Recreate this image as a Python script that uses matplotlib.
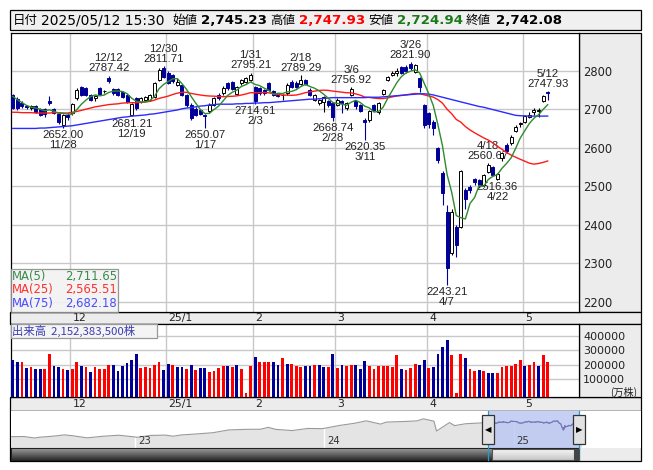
import numpy as np
import pandas as pd
import matplotlib
matplotlib.use("Agg")
import matplotlib.pyplot as plt
from matplotlib.patches import Rectangle
import matplotlib.transforms as mtransforms
import matplotlib.dates as mdates

# ---------------------------------------------------------------- data
holidays = ["2024-12-31", "2025-01-01", "2025-01-02", "2025-01-03", "2025-01-13",
            "2025-02-11", "2025-02-24", "2025-03-20", "2025-04-29", "2025-05-05", "2025-05-06"]
trade_days = [d for d in pd.bdate_range("2024-11-13", "2025-05-12")
              if d.strftime("%Y-%m-%d") not in holidays]
update_time = "15:30"

opens = [2736, 2727, 2716, 2707, 2702, 2708, 2700, 2700, 2720, 2700,
         2687, 2660, 2686, 2689, 2728, 2757, 2755, 2737, 2728, 2754,
         2747, 2780, 2752, 2752, 2745, 2737, 2685, 2728, 2719, 2724,
         2724, 2732, 2776, 2808, 2795, 2789, 2764, 2763, 2737, 2712,
         2700, 2698, 2686, 2694, 2711, 2737, 2741, 2767, 2771, 2740,
         2767, 2770, 2777, 2758, 2754, 2750, 2767, 2746, 2736, 2737,
         2741, 2771, 2769, 2765, 2776, 2751, 2724, 2715, 2719, 2720,
         2716, 2712, 2722, 2703, 2737, 2720, 2711, 2672, 2672, 2711,
         2692, 2739, 2777, 2789, 2795, 2809, 2810, 2817, 2797, 2780,
         2711, 2689, 2668, 2598, 2535, 2434, 2327, 2395, 2395, 2490,
         2499, 2518, 2516, 2503, 2538, 2549, 2519, 2572, 2608, 2611,
         2644, 2661, 2668, 2681, 2693, 2695, 2722, 2745.23]
highs = [2740, 2731, 2720, 2712, 2712, 2712, 2703, 2702, 2733, 2703,
         2690, 2688, 2690, 2716, 2755, 2760, 2758, 2740, 2738, 2757,
         2751, 2787.42, 2755, 2755, 2748, 2740, 2717, 2731, 2732, 2735,
         2740, 2770, 2806, 2811.71, 2799, 2792, 2780, 2766, 2740, 2715,
         2705, 2701, 2688, 2715, 2731, 2741, 2759, 2771, 2774, 2760,
         2779, 2784, 2795.21, 2761, 2757, 2753, 2770, 2749, 2741, 2740,
         2767, 2775, 2772, 2789.29, 2779, 2754, 2740, 2727, 2735, 2724,
         2719, 2728, 2725, 2719, 2756.92, 2723, 2714, 2676, 2697, 2714,
         2718, 2753, 2787, 2800, 2807, 2812, 2814, 2821.90, 2818, 2783,
         2714, 2693, 2672, 2602, 2540, 2451, 2440, 2398, 2542, 2494,
         2503, 2522, 2519, 2532, 2560.67, 2552, 2535, 2590, 2612, 2632,
         2658, 2668, 2685, 2692, 2702, 2702, 2738, 2747.93]
lows = [2700, 2699, 2702, 2700, 2698, 2690, 2683, 2680, 2712, 2688,
        2662, 2652.00, 2673, 2686, 2725, 2733, 2734, 2720, 2722, 2736,
        2742, 2769, 2738, 2734, 2728, 2716, 2681.21, 2698, 2716, 2721,
        2721, 2729, 2772, 2781, 2765, 2768, 2760, 2734, 2706, 2672,
        2682, 2684, 2650.07, 2690, 2707, 2725, 2737, 2750, 2749, 2736,
        2764, 2767, 2774, 2714.61, 2737, 2737, 2747, 2733, 2732, 2724,
        2738, 2755, 2755, 2762, 2762, 2733, 2720, 2711, 2693, 2706,
        2668.74, 2709, 2690, 2698, 2733, 2700, 2692, 2620.35, 2668, 2694,
        2688, 2736, 2773, 2786, 2786, 2791, 2795, 2802, 2794, 2745,
        2650, 2650, 2633, 2560, 2450, 2243.21, 2320, 2317, 2392, 2440,
        2482, 2503, 2497, 2499, 2535, 2526, 2516.36, 2566, 2586, 2607,
        2640, 2655, 2664, 2677, 2685, 2680, 2718, 2724.94]
closes = [2704, 2703, 2707, 2705, 2708, 2693, 2686, 2688, 2716, 2691,
          2667, 2684, 2679, 2713, 2751, 2737, 2738, 2724, 2735, 2739,
          2747.5, 2772, 2741, 2737, 2732, 2719, 2714, 2702, 2728, 2732,
          2737, 2767, 2802, 2784, 2769, 2772, 2770, 2737, 2710, 2678,
          2685, 2688, 2682, 2712, 2728, 2729, 2756, 2754, 2752, 2757,
          2776, 2780, 2789, 2720, 2741, 2743, 2751, 2737, 2735, 2737.5,
          2764, 2758, 2758, 2776, 2765, 2737, 2737, 2724, 2732, 2712,
          2681, 2725, 2716, 2716, 2752, 2707, 2696, 2668, 2694, 2698,
          2715, 2750, 2784, 2795, 2800, 2794, 2798, 2806, 2815, 2757,
          2659, 2662, 2650, 2568, 2482, 2288, 2434, 2347, 2539.4, 2466,
          2489, 2510, 2503, 2529, 2556, 2530, 2532, 2585, 2592, 2629,
          2654, 2665, 2681.08, 2686, 2697, 2698, 2735.17, 2742.08]
pre_closes = [2745, 2744, 2742, 2730]          # four sessions before the window (MA5 warm-up)
ma25_early = [2692, 2692, 2691, 2691, 2691, 2690, 2690, 2690, 2690, 2691,
              2691, 2690, 2690, 2692, 2694, 2697, 2700, 2703, 2706, 2708,
              2710, 2712, 2713, 2714]
ma75 = [2650, 2650, 2650, 2650, 2650, 2650, 2651, 2651, 2652, 2653,
        2654, 2655, 2656, 2657, 2659, 2661, 2663, 2665, 2667, 2669,
        2671, 2673, 2675, 2677, 2679, 2680, 2682, 2683, 2684, 2685,
        2687, 2688, 2690, 2692, 2694, 2696, 2698, 2701, 2703, 2704,
        2706, 2708, 2709, 2711, 2712, 2713, 2713, 2713, 2713, 2714,
        2714, 2715, 2715, 2716, 2716, 2717, 2717, 2718, 2719, 2720,
        2721, 2722, 2723, 2724, 2725, 2726, 2726, 2727, 2728, 2729,
        2730, 2730, 2730, 2730, 2730, 2730, 2730, 2730, 2731, 2731,
        2731, 2732, 2733, 2734, 2735, 2736, 2737, 2738, 2739, 2740,
        2740, 2739, 2737, 2734, 2731, 2728, 2725, 2722, 2719, 2716,
        2713, 2710, 2707, 2705, 2702, 2699, 2696, 2693, 2690, 2687,
        2684, 2683, 2682.5, 2682, 2682, 2682, 2682, 2682.18]
volume = [234000, 220000, 220000, 178000, 185000, 171000, 171000, 171000, 276000, 192000,
          185000, 171000, 164000, 171000, 220000, 192000, 185000, 150000, 185000, 171000,
          171000, 199000, 199000, 157000, 192000, 213000, 234000, 276000, 178000, 185000,
          178000, 199000, 220000, 164000, 206000, 199000, 185000, 185000, 171000, 199000,
          164000, 178000, 178000, 150000, 157000, 178000, 192000, 192000, 185000, 199000,
          171000, 0, 192000, 255000, 220000, 220000, 220000, 220000, 199000, 248000,
          206000, 206000, 192000, 185000, 192000, 192000, 199000, 199000, 185000, 185000,
          276000, 178000, 199000, 192000, 199000, 199000, 171000, 227000, 192000, 171000,
          192000, 192000, 192000, 185000, 269000, 171000, 164000, 178000, 206000, 199000,
          234000, 178000, 185000, 276000, 326000, 375000, 269000, 0, 276000, 248000,
          171000, 157000, 164000, 157000, 143000, 143000, 143000, 185000, 192000, 192000,
          206000, 234000, 192000, 199000, 220000, 192000, 269000, 215238.35]   # 万株
vol_up = [0, 0, 1, 0, 1, 0, 0, 1, 1, 0,
          0, 1, 0, 1, 1, 0, 1, 0, 1, 1,
          1, 1, 0, 0, 0, 0, 0, 0, 1, 1,
          1, 1, 1, 0, 0, 1, 0, 0, 1, 0,
          1, 0, 0, 1, 1, 1, 1, 0, 1, 0,
          1, 1, 1, 0, 1, 1, 1, 0, 0, 1,
          0, 1, 1, 1, 0, 0, 1, 0, 0, 1,
          0, 1, 0, 1, 1, 0, 0, 0, 1, 1,
          1, 1, 1, 1, 1, 0, 1, 1, 1, 0,
          0, 1, 0, 0, 0, 0, 1, 1, 1, 0,
          1, 1, 0, 1, 0, 0, 1, 1, 1, 1,
          1, 1, 0, 1, 1, 0, 1, 1]
peak_days = ["2024-12-12", "2024-12-30", "2025-01-31", "2025-02-18",
             "2025-03-06", "2025-03-26", "2025-04-18", "2025-05-12"]
trough_days = ["2024-11-28", "2024-12-19", "2025-01-17", "2025-02-03",
               "2025-02-28", "2025-03-11", "2025-04-07", "2025-04-22"]
nav_dates = ["2022-02-28", "2022-03-08", "2022-03-31", "2022-04-28", "2022-05-31",
             "2022-06-20", "2022-06-30", "2022-07-29", "2022-08-17", "2022-08-31",
             "2022-09-30", "2022-10-31", "2022-11-30", "2022-12-30", "2023-01-04",
             "2023-01-31", "2023-02-28", "2023-03-15", "2023-03-31", "2023-04-28",
             "2023-05-31", "2023-06-30", "2023-07-31", "2023-08-31", "2023-09-15",
             "2023-09-29", "2023-10-31", "2023-11-30", "2023-12-29", "2024-01-31",
             "2024-02-29", "2024-03-22", "2024-03-29", "2024-04-19", "2024-04-30",
             "2024-05-31", "2024-06-28", "2024-07-11", "2024-07-31", "2024-08-05",
             "2024-08-30", "2024-09-09", "2024-09-30", "2024-10-31", "2024-11-12"]
nav_close = [1886, 1760, 1946, 1900, 1912,
             1826, 1871, 1940, 2006, 1963,
             1836, 1929, 1986, 1892, 1868,
             1975, 1993, 1930, 2003, 2057,
             2131, 2289, 2323, 2332, 2440,
             2323, 2254, 2375, 2366, 2551,
             2676, 2814, 2769, 2626, 2743,
             2772, 2810, 2929, 2794, 2227,
             2713, 2540, 2646, 2696, 2730]

# ---------------------------------------------------------------- helpers
W, H = 653, 470
NAVY = "#000099"
CJK = ["Noto Sans CJK JP", "DejaVu Sans"]
plt.rcParams["font.family"] = ["DejaVu Sans"]

fig = plt.figure(figsize=(W / 100, H / 100), dpi=100)
fig.patch.set_facecolor("white")


def fbox(x0, y0, x1, y1):
    return [x0 / W, 1 - y1 / H, (x1 - x0) / W, (y1 - y0) / H]


def frect(x0, y0, x1, y1, fc, ec="black", lw=0.8, z=-5, alpha=1.0):
    r = Rectangle((x0 / W, 1 - y1 / H), (x1 - x0) / W, (y1 - y0) / H,
                  transform=fig.transFigure, fc=fc, ec=ec, lw=lw, zorder=z, alpha=alpha)
    fig.patches.append(r)
    return r


def ftext(x, y, s, **kw):
    return fig.text(x / W, 1 - y / H, s, **kw)


n = len(closes)
xi = np.arange(n)
o, h, l, c = map(np.array, (opens, highs, lows, closes))
ma5 = pd.Series(pre_closes + closes).rolling(5).mean().values[len(pre_closes):]
ma25 = np.concatenate([ma25_early, pd.Series(closes).rolling(25).mean().values[24:]])
ma75a = np.array(ma75)
XMIN, XMAX = -0.5, 123.85
month_starts = [i for i in range(1, n) if trade_days[i].month != trade_days[i - 1].month]


def mlabel(i):
    d = trade_days[i]
    return f"{d.year % 100}/1" if d.month == 1 else str(d.month)


# ---------------------------------------------------------------- header
frect(10, 10, 641, 30, "#f0f0f0", lw=0.9)
hy = 20.5
last = trade_days[-1]
ftext(13, hy, "日付", family=CJK, fontsize=9, va="center")
ftext(41, hy, f"{last:%Y/%m/%d} {update_time}", fontsize=10, va="center")
for xl, lab, xv, val, col in [(172, "始値", 201, opens[-1], "black"),
                              (270, "高値", 299, highs[-1], "#ff0000"),
                              (368, "安値", 397, lows[-1], "#1a7a1a"),
                              (466, "終値", 496, closes[-1], "black")]:
    ftext(xl, hy, lab, family=CJK, fontsize=9, va="center")
    ftext(xv, hy, f"{val:,.2f}", fontsize=9.6, fontweight="bold", color=col, va="center")

# ---------------------------------------------------------------- main price panel
frect(579, 33, 641, 312, "#ececec", lw=0.9)
ax = fig.add_axes(fbox(10.5, 33, 579, 312))
ax.set_xlim(XMIN, XMAX)
ax.set_ylim(2173.2, 2897.9)
ax.set_yticks([2200, 2300, 2400, 2500, 2600, 2700, 2800])
ax.yaxis.tick_right()
ax.tick_params(axis="y", length=0, pad=3, labelsize=8.3, labelcolor="#222222")
ax.set_xticks([])
ax.grid(axis="y", color="#c8c8c8", lw=1, zorder=0)
for m in month_starts:
    ax.axvline(m - 0.5, color="#c8c8c8", lw=1, zorder=0)
for sp in ax.spines.values():
    sp.set_color("black")
    sp.set_linewidth(0.9)

up = c >= o
ax.vlines(xi[up], l[up], h[up], color="black", lw=0.8, zorder=3)
ax.vlines(xi[~up], l[~up], h[~up], color=NAVY, lw=0.8, zorder=3)
ax.bar(xi[up], np.abs(c - o)[up], bottom=np.minimum(o, c)[up], width=0.66,
       fc="white", ec="black", lw=0.7, zorder=4)
ax.bar(xi[~up], np.abs(c - o)[~up], bottom=np.minimum(o, c)[~up], width=0.66,
       fc=NAVY, ec=NAVY, lw=0.7, zorder=4)

ax.plot(xi, ma25, color="#ff1a1a", lw=1.0, zorder=5)
ax.plot(xi, ma75a, color="#2b2bff", lw=1.0, zorder=5)
ax.plot(xi, ma5, color="#2e8b2e", lw=1.0, zorder=6)

day_str = [d.strftime("%Y-%m-%d") for d in trade_days]
for ds in peak_days:
    i = day_str.index(ds)
    d = trade_days[i]
    ax.annotate(f"{d.month}/{d.day}\n{highs[i]:.2f}", xy=(i, highs[i]), xytext=(0, 1.5),
                textcoords="offset points", ha="center", va="bottom", fontsize=8.2,
                family=["Liberation Sans", "DejaVu Sans"], color="#222222",
                linespacing=1.0, zorder=2)
for ds in trough_days:
    i = day_str.index(ds)
    d = trade_days[i]
    ax.annotate(f"{lows[i]:.2f}\n{d.month}/{d.day}", xy=(i, lows[i]), xytext=(0, -1.5),
                textcoords="offset points", ha="center", va="top", fontsize=8.2,
                family=["Liberation Sans", "DejaVu Sans"], color="#222222",
                linespacing=1.0, zorder=2)

# MA legend box
frect(10.5, 269, 118, 312, "#f2f2f2", ec="#8c8c8c", lw=0.9, z=10, alpha=0.9)
for yy, name, val, col in [(276.5, "MA(5)", ma5[-1], "#3a8a4a"),
                           (290, "MA(25)", ma25[-1], "#ff3030"),
                           (304, "MA(75)", ma75a[-1], "#4a4aff")]:
    ftext(12, yy, name, fontsize=8.4, color=col, va="center", zorder=11)
    ftext(117, yy, f"{val:,.2f}", fontsize=8.4, color=col, va="center", ha="right", zorder=11)

# ---------------------------------------------------------------- date strips
strip_trans = mtransforms.blended_transform_factory(ax.transData, fig.transFigure)
lab_trans = mtransforms.offset_copy(strip_trans, fig=fig, x=2.5, y=0, units="dots")
for y0, y1 in [(312, 323.5), (397, 410.5)]:
    frect(10, y0, 641, y1, "#ececec", lw=0.9)
    for m in month_starts:
        fig.text(m - 0.5, 1 - (y0 + y1) / 2 / H, mlabel(m), transform=lab_trans,
                 fontsize=7.8, color="#222222", ha="left", va="center")

# ---------------------------------------------------------------- volume panel
frect(579, 323.5, 641, 397, "#ececec", lw=0.9)
vax = fig.add_axes(fbox(10.5, 323.5, 579, 397))
VMIN = -27000
vax.set_xlim(XMIN, XMAX)
vax.set_ylim(VMIN, 489000)
vax.set_yticks([100000, 200000, 300000, 400000])
vax.yaxis.tick_right()
vax.tick_params(axis="y", length=0, pad=3, labelsize=8, labelcolor="#222222")
vax.set_xticks([])
vax.grid(axis="y", color="#c8c8c8", lw=1, zorder=0)
for m in month_starts:
    vax.axvline(m - 0.5, color="#c8c8c8", lw=1, zorder=0)
for sp in vax.spines.values():
    sp.set_color("black")
    sp.set_linewidth(0.9)
vol = np.array(volume, dtype=float)
vup = np.array(vol_up, dtype=bool)
vcol = np.where(vup, "#ff0000", NAVY)
vax.bar(xi, vol - VMIN, bottom=VMIN, width=0.62, color=vcol, lw=0, zorder=3)
ftext(637, 392, "(万株)", family=CJK, fontsize=7.3, color="#222222", ha="right", va="center")
frect(10.5, 323.5, 157, 338, "#f4f4f4", ec="#999999", lw=0.9, z=10)
ftext(12.5, 331, f"出来高  {volume[-1] * 10000:,.0f}株", family=CJK, fontsize=8.2,
      color="#3c3cb4", va="center", zorder=11)

# ---------------------------------------------------------------- navigator
frect(10, 410.5, 641, 461, "#ececec", lw=0.9)
nax = fig.add_axes(fbox(10.5, 411, 640.5, 447.5))
nd = [mdates.date2num(pd.Timestamp(s)) for s in nav_dates] + \
     [mdates.date2num(d) for d in trade_days]
nv = nav_close + closes
sel_l = mdates.date2num(trade_days[0]) - 0.5
ppd = 189.0 / 365.25                       # navigator pixels per calendar day
sel_r = sel_l + (579 - 488) / ppd
nax.set_xlim(sel_l - (488 - 10.5) / ppd, sel_l + (640.5 - 488) / ppd)
NYMIN = 1280
nax.set_ylim(NYMIN, 3380)
nax.set_facecolor("white")
nax.set_xticks([])
nax.set_yticks([])
for sp in nax.spines.values():
    sp.set_visible(False)
nax.fill_between(nd, nv, NYMIN, color="#e4e4e4", lw=0, zorder=1)
for yr in (2023, 2024, 2025):
    xd = mdates.date2num(pd.Timestamp(f"{yr}-01-01"))
    nax.axvline(xd, color="white", lw=1, zorder=1.5)
    nax.annotate(f"{yr % 100}", xy=(xd, NYMIN), xytext=(2, 1), textcoords="offset points",
                 fontsize=7.3, color="#333333", ha="left", va="bottom", zorder=4)
nax.axvspan(sel_l, sel_r, color="#bcc8f4", alpha=0.85, lw=0, zorder=2)
nax.plot(nd, nv, color="#9a9a9a", lw=0.8, zorder=3)
nd_a, nv_a = np.array(nd), np.array(nv)
msk = nd_a >= sel_l
nax.plot(nd_a[msk], nv_a[msk], color="#7078c0", lw=0.8, zorder=3.5)

# scrollbar
sax = fig.add_axes(fbox(10.5, 448, 579, 460))
grad = np.linspace(0.62, 0.18, 40).reshape(-1, 1)
sax.imshow(np.dstack([grad, grad, grad]), aspect="auto", extent=(0, 1, 0, 1))
sax.set_xlim(0, 1)
sax.set_ylim(0, 1)
sax.set_xticks([])
sax.set_yticks([])
for sp in sax.spines.values():
    sp.set_color("#222222")
    sp.set_linewidth(0.8)
tax = fig.add_axes(fbox(492, 448.5, 574, 459.5))
g2 = np.linspace(0.97, 0.78, 40).reshape(-1, 1)
tax.imshow(np.dstack([g2, g2, g2]), aspect="auto", extent=(0, 1, 0, 1))
tax.set_xticks([])
tax.set_yticks([])
for sp in tax.spines.values():
    sp.set_color("#555555")
    sp.set_linewidth(0.8)
frect(574, 448.5, 578.5, 459.5, "#444444", ec="#444444", lw=0.5, z=12)

# selection handles
for xx in (488, 579):
    fig.add_artist(plt.Line2D([xx / W, xx / W], [1 - 411 / H, 1 - 460 / H],
                              transform=fig.transFigure, color="#19a0d8", lw=0.9, zorder=12))
frect(482, 415, 494, 444, "#e2e2e2", ec="#333333", lw=0.9, z=13)
frect(573, 415, 585, 444, "#e2e2e2", ec="#333333", lw=0.9, z=13)
ftext(488, 429.5, "◀", fontsize=6, ha="center", va="center", zorder=14)
ftext(579, 429.5, "▶", fontsize=6, ha="center", va="center", zorder=14)

fig.savefig("out.png", dpi=100, facecolor="white")
